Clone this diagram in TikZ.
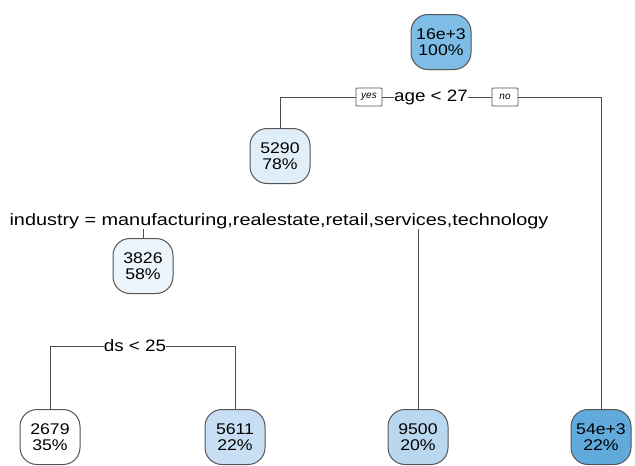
\documentclass[tikz,border=0pt]{standalone}
\usepackage{fontspec}
\setmainfont{Liberation Sans}
\definecolor{border}{RGB}{85,85,85}
\definecolor{cRoot}{RGB}{126,190,230}
\definecolor{cA}{RGB}{224,238,250}
\definecolor{cB}{RGB}{236,245,252}
\definecolor{cC}{RGB}{200,222,244}
\definecolor{cD}{RGB}{186,215,240}
\definecolor{cE}{RGB}{96,170,220}
\newcommand{\widetxt}[1]{\scalebox{1.14}[1]{#1}}
\tikzset{
  tnode/.style={draw=border, line width=1pt, rounded corners=17pt, minimum width=60pt, minimum height=55pt,
    inner sep=1pt, align=center, font=\fontsize{15.5}{15.5}\selectfont},
  splitlbl/.style={inner sep=0pt, xscale=1.14, font=\fontsize{16.5}{19}\selectfont},
  tagbox/.style={draw=border, line width=0.8pt, rounded corners=1pt, minimum width=26pt, minimum height=18pt,
    inner sep=1pt, font=\fontsize{10}{12}\itshape\selectfont},
  conn/.style={draw=border!90!black, line width=1pt}
}
\begin{document}
\begin{tikzpicture}[x=1pt,y=-1pt]
\useasboundingbox[fill=white] (0,0) rectangle (635,466);
% nodes
\node[tnode, fill=cRoot] (root) at (441,42) {\widetxt{16e+3}\\\widetxt{100\%}};
\node[tnode, fill=cA] (n5290) at (280,156) {\widetxt{5290}\\\widetxt{78\%}};
\node[tnode, fill=cB] (n3826) at (143,266) {\widetxt{3826}\\\widetxt{58\%}};
\node[tnode, fill=white] (n2679) at (50,437) {\widetxt{2679}\\\widetxt{35\%}};
\node[tnode, fill=cC] (n5611) at (235,437) {\widetxt{5611}\\\widetxt{22\%}};
\node[tnode, fill=cD] (n9500) at (418,437) {\widetxt{9500}\\\widetxt{20\%}};
\node[tnode, fill=cE] (n54) at (601,437) {\widetxt{54e+3}\\\widetxt{22\%}};
% split labels
\node[splitlbl] (age) at (431,97) {age < 27};
\node[tagbox] (yes) at (369,97) {yes};
\node[tagbox] (no) at (505,97) {no};
\node[splitlbl, xscale=1.055] (ind) at (279,221) {industry = manufacturing,realestate,retail,services,technology};
\node[splitlbl] (ds) at (135,346) {ds < 25};
% connectors
\draw[conn] (yes.east) -- (age.west);
\draw[conn] (age.east) -- (no.west);
\draw[conn] (yes.west) -| (n5290.north);
\draw[conn] (no.east) -| (n54.north);
\draw[conn] (n3826 |- ind.south) -- (n3826.north);
\draw[conn] (n9500 |- ind.south) -- (n9500.north);
\draw[conn] (ds.west) -| (n2679.north);
\draw[conn] (ds.east) -| (n5611.north);
\end{tikzpicture}
\end{document}
